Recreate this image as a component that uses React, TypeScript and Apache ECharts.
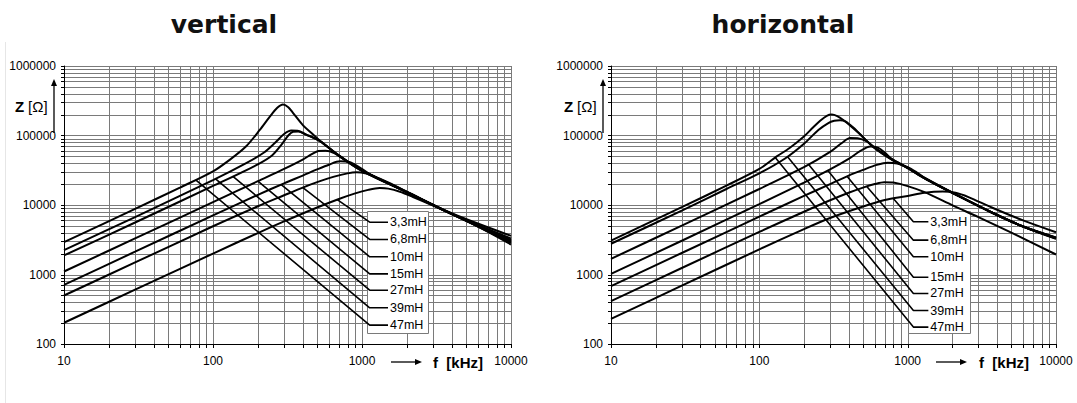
import React, { useEffect, useRef } from 'react';
import * as echarts from 'echarts';

// Axis ranges (kHz / Ohm)
const F_MIN = 10;
const F_MAX = 10000;
const Z_MIN = 100;
const Z_MAX = 1000000;

const INDUCTANCES = ['3,3mH', '6,8mH', '10mH', '15mH', '27mH', '39mH', '47mH'];

// ---- impedance curves, vertical mounting: [f (kHz), Z (Ohm)] ----
const V_3_3 = [[10, 202], [30, 605], [100, 2000], [200, 3950], [300, 5800], [500, 9200], [700, 12200], [900, 14700], [1100, 16500], [1315, 17500], [1500, 17200], [1800, 15500], [2200, 13000], [3000, 9800], [5000, 6000], [10000, 2700]];
const V_6_8 = [[10, 499], [30, 1490], [100, 4950], [200, 9600], [300, 13800], [400, 17800], [500, 21300], [650, 25600], [800, 28500], [920, 29500], [1050, 28700], [1200, 26000], [1400, 22500], [1700, 18500], [2000, 15400], [4000, 7500], [10000, 2850]];
const V_10 = [[10, 710], [30, 2130], [100, 7100], [200, 14000], [300, 20500], [400, 26500], [500, 32500], [600, 38000], [710, 42500], [820, 41500], [950, 35500], [1100, 28800], [1400, 22000], [2000, 15300], [4000, 7400], [10000, 2950]];
const V_15 = [[10, 1105], [30, 3300], [100, 11000], [200, 22000], [300, 33000], [400, 45000], [460, 54000], [510, 60000], [570, 60500], [650, 56000], [800, 42000], [1000, 31500], [2000, 15300], [4000, 7400], [10000, 3050]];
const V_27 = [[10, 1880], [30, 5600], [100, 18800], [200, 38500], [250, 52000], [290, 75000], [320, 100000], [345, 113000], [375, 114000], [420, 103000], [520, 83000], [700, 51500], [1000, 31000], [2000, 15200], [4000, 7400], [10000, 3150]];
const V_39 = [[10, 2240], [30, 6700], [100, 22800], [167, 40000], [220, 57000], [260, 78000], [300, 105000], [335, 118000], [370, 117000], [420, 104000], [520, 84000], [700, 51000], [1000, 31000], [2000, 15200], [4000, 7450], [10000, 3300]];
const V_47 = [[10, 2920], [30, 8800], [60, 17800], [100, 30500], [130, 45000], [167, 70000], [206, 120000], [240, 185000], [270, 250000], [295, 279000], [320, 255000], [344, 212000], [402, 140000], [460, 108000], [520, 85000], [700, 52000], [1000, 31500], [2000, 15500], [4000, 7600], [10000, 3600]];

// ---- impedance curves, horizontal mounting ----
const H_3_3 = [[10, 230], [30, 690], [100, 2300], [200, 4500], [300, 6500], [500, 9500], [700, 11800], [1000, 13500], [1300, 15000], [1725, 15600], [2100, 15000], [2570, 13000], [3690, 9200], [6000, 6000], [10000, 4050]];
const H_6_8 = [[10, 413], [30, 1240], [100, 4100], [200, 8000], [300, 11700], [400, 15000], [500, 17800], [600, 20000], [695, 21300], [800, 21000], [1000, 18700], [1300, 15300], [2023, 9800], [3000, 6700], [5000, 4000], [10000, 1940]];
const H_10 = [[10, 680], [30, 2040], [100, 6800], [200, 13500], [300, 20000], [400, 26500], [500, 32000], [620, 37800], [734, 40500], [850, 39500], [1000, 35000], [1150, 29500], [1309, 24500], [2198, 13600], [3690, 7800], [6000, 4900], [10000, 3250]];
const H_15 = [[10, 1020], [30, 3060], [100, 10300], [200, 21000], [300, 32500], [400, 46000], [480, 60000], [560, 69500], [630, 67000], [700, 57000], [781, 46000], [1000, 34500], [1309, 24200], [2198, 13500], [3690, 7800], [6000, 4900], [10000, 3300]];
const H_27 = [[10, 1680], [30, 5050], [100, 17000], [200, 35000], [300, 58000], [360, 78000], [410, 92000], [460, 91000], [530, 82000], [600, 67000], [700, 53500], [781, 45500], [1000, 34200], [1309, 24100], [2198, 13500], [3690, 7800], [6000, 4900], [10000, 3350]];
const H_39 = [[10, 2770], [30, 8300], [60, 17000], [100, 28500], [150, 47000], [200, 76000], [250, 120000], [290, 150000], [320, 163000], [350, 166000], [380, 160000], [430, 130000], [478, 104000], [588, 68500], [781, 45200], [1000, 34000], [1309, 24000], [2198, 13500], [3690, 7800], [6000, 4900], [10000, 3380]];
const H_47 = [[10, 3080], [30, 9300], [60, 19000], [100, 33000], [131, 50000], [160, 66000], [198, 95000], [230, 130000], [257, 163000], [285, 192000], [308, 200000], [335, 190000], [368, 167000], [420, 133000], [478, 104000], [588, 68000], [781, 45000], [1000, 34000], [1309, 24000], [2198, 13500], [3690, 7800], [6000, 4900], [10000, 3400]];

const VERTICAL_CURVES = [V_3_3, V_6_8, V_10, V_15, V_27, V_39, V_47];
const HORIZONTAL_CURVES = [H_3_3, H_6_8, H_10, H_15, H_27, H_39, H_47];

// Leader lines: frequency where each leader leaves its curve, and label level (Ohm)
const V_LEADER_FREQ = [682, 401, 287, 200, 136, 104, 76.5];
const V_LABEL_Z = [5660, 3190, 1800, 1020, 594, 332, 187];
const H_LEADER_FREQ = [800, 530, 390, 290, 215, 155, 128];
const H_LABEL_Z = [5730, 3120, 1800, 914, 533, 303, 175];

// Label block geometry in data space
const V_LABEL_BLOCK = { corner: 1126, end: 1495, box: [1081, 8150, 2773, 141.6] };
const H_LABEL_BLOCK = { corner: 1093, end: 1379, box: [1011, 8150, 2637, 141.6] };

const GRID_COLOR = '#7a7a7a';
const SANS = '"Liberation Sans", Arial, sans-serif';

function logGridValues(min: number, max: number): number[] {
  const out: number[] = [];
  for (let d = min; d < max; d *= 10) {
    for (let k = 1; k <= 9; k++) out.push(d * k);
  }
  out.push(max);
  return out;
}

// Z on a curve at frequency f (linear in log-log between read points)
function zOnCurve(curve: number[][], f: number): number {
  const lf = Math.log10(f);
  for (let i = 0; i < curve.length - 1; i++) {
    const [f0, z0] = curve[i];
    const [f1, z1] = curve[i + 1];
    if (f >= f0 && f <= f1) {
      const t = (lf - Math.log10(f0)) / (Math.log10(f1) - Math.log10(f0));
      return Math.pow(10, Math.log10(z0) + t * (Math.log10(z1) - Math.log10(z0)));
    }
  }
  return curve[curve.length - 1][1];
}

function gridLinesSeries(idx: number, dir: 'v' | 'h') {
  const values = dir === 'v' ? logGridValues(F_MIN, F_MAX) : logGridValues(Z_MIN, Z_MAX);
  return {
    type: 'custom',
    xAxisIndex: idx,
    yAxisIndex: idx,
    silent: true,
    z: 1,
    clip: false,
    data: values.map((v) => (dir === 'v' ? [v, Z_MIN] : [F_MIN, v])),
    renderItem: (params: any, api: any) => {
      const cs = params.coordSys;
      const p = api.coord([api.value(0), api.value(1)]);
      if (dir === 'v') {
        const x = Math.round(p[0]) + 0.5;
        const yb = cs.y + cs.height;
        return {
          type: 'group',
          children: [
            { type: 'line', shape: { x1: x, y1: cs.y, x2: x, y2: yb }, style: { stroke: GRID_COLOR, lineWidth: 1 } },
            { type: 'line', shape: { x1: x, y1: yb, x2: x, y2: yb + 4 }, style: { stroke: '#000', lineWidth: 1 } },
          ],
        };
      }
      const y = Math.round(p[1]) + 0.5;
      return {
        type: 'group',
        children: [
          { type: 'line', shape: { x1: cs.x, y1: y, x2: cs.x + cs.width, y2: y }, style: { stroke: GRID_COLOR, lineWidth: 1 } },
          { type: 'line', shape: { x1: cs.x - 3, y1: y, x2: cs.x, y2: y }, style: { stroke: '#000', lineWidth: 1 } },
        ],
      };
    },
  };
}

function labelBoxSeries(idx: number, box: number[]) {
  return {
    type: 'custom',
    xAxisIndex: idx,
    yAxisIndex: idx,
    silent: true,
    z: 3,
    encode: { x: [0, 2], y: [1, 3] },
    data: [box],
    renderItem: (params: any, api: any) => {
      const p1 = api.coord([api.value(0), api.value(1)]);
      const p2 = api.coord([api.value(2), api.value(3)]);
      const x = Math.round(p1[0]) + 0.5;
      const y = Math.round(p1[1]) + 0.5;
      return {
        type: 'rect',
        shape: { x, y, width: Math.round(p2[0] - p1[0]), height: Math.round(p2[1] - p1[1]) },
        style: { fill: '#fff', stroke: '#7a7a7a', lineWidth: 1 },
      };
    },
  };
}

function curveSeries(idx: number, curves: number[][][]) {
  return curves.map((c, i) => ({
    type: 'line',
    name: `${idx}-${INDUCTANCES[i]}`,
    xAxisIndex: idx,
    yAxisIndex: idx,
    data: c,
    smooth: 0.3,
    symbol: 'none',
    silent: true,
    z: 5,
    lineStyle: { color: '#000', width: 2 },
  }));
}

function leaderSeries(idx: number, curves: number[][][], freqs: number[], levels: number[], block: any) {
  return curves.map((c, i) => ({
    type: 'line',
    xAxisIndex: idx,
    yAxisIndex: idx,
    data: [
      [freqs[i], zOnCurve(c, freqs[i])],
      [block.corner, levels[i]],
      [block.end, levels[i]],
    ],
    symbol: 'none',
    silent: true,
    z: 6,
    lineStyle: { color: '#000', width: 1.6 },
    endLabel: {
      show: true,
      formatter: INDUCTANCES[i],
      color: '#000',
      fontSize: 12.5,
      fontFamily: SANS,
      distance: 2,
    },
  }));
}

function arrowGraphics(x1: number, y1: number, x2: number, y2: number) {
  const ang = Math.atan2(y2 - y1, x2 - x1);
  const len = 7;
  const w = 3;
  const bx = x2 - len * Math.cos(ang);
  const by = y2 - len * Math.sin(ang);
  const nx = -Math.sin(ang) * w;
  const ny = Math.cos(ang) * w;
  return [
    { type: 'line', shape: { x1, y1, x2: bx, y2: by }, style: { stroke: '#000', lineWidth: 1.3 } },
    { type: 'polygon', shape: { points: [[x2, y2], [bx + nx, by + ny], [bx - nx, by - ny]] }, style: { fill: '#000' } },
  ];
}

const App: React.FC = () => {
  const ref = useRef<HTMLDivElement>(null);

  useEffect(() => {
    if (!ref.current) return;
    const chart = echarts.init(ref.current, undefined, { renderer: 'svg' });

    const grids = [
      { left: 64, top: 66, width: 447, height: 278 },
      { left: 611, top: 66, width: 445, height: 278 },
    ];

    const labelFmt = (v: number) => String(Math.round(v));

    const xAxes = [0, 1].map((i) => ({
      type: 'log',
      logBase: 10,
      gridIndex: i,
      min: F_MIN,
      max: F_MAX,
      z: 4,
      axisLine: { show: true, onZero: false, lineStyle: { color: '#000', width: 1 } },
      axisTick: { show: false },
      splitLine: { show: false },
      axisLabel: { formatter: labelFmt, color: '#000', fontSize: 12, fontFamily: SANS, margin: 11 },
    }));
    const yAxes = [0, 1].map((i) => ({
      type: 'log',
      logBase: 10,
      gridIndex: i,
      min: Z_MIN,
      max: Z_MAX,
      z: 4,
      axisLine: { show: true, onZero: false, lineStyle: { color: '#000', width: 1 } },
      axisTick: { show: false },
      splitLine: { show: false },
      axisLabel: { formatter: labelFmt, color: '#000', fontSize: 12, fontFamily: SANS, margin: 8 },
    }));

    const series: any[] = [
      gridLinesSeries(0, 'v'),
      gridLinesSeries(0, 'h'),
      gridLinesSeries(1, 'v'),
      gridLinesSeries(1, 'h'),
      labelBoxSeries(0, V_LABEL_BLOCK.box),
      labelBoxSeries(1, H_LABEL_BLOCK.box),
      ...curveSeries(0, VERTICAL_CURVES),
      ...curveSeries(1, HORIZONTAL_CURVES),
      ...leaderSeries(0, VERTICAL_CURVES, V_LEADER_FREQ, V_LABEL_Z, V_LABEL_BLOCK),
      ...leaderSeries(1, HORIZONTAL_CURVES, H_LEADER_FREQ, H_LABEL_Z, H_LABEL_BLOCK),
    ];

    const titleStyle = { fontSize: 25, fontWeight: 'bold', fontFamily: '"DejaVu Sans", Verdana, sans-serif', fill: '#111' };
    const axisNameStyle = { fontSize: 15, fontWeight: 'bold', fontFamily: SANS, fill: '#000' };

    const zLabel = (x: number) => [
      { type: 'text', x, y: 106, style: { text: 'Z', ...axisNameStyle, verticalAlign: 'middle' } },
      { type: 'text', x: x + 13, y: 106, style: { text: '[Ω]', fontSize: 15, fontFamily: SANS, fill: '#000', verticalAlign: 'middle' } },
    ];
    const fLabel = (x: number) => [
      { type: 'text', x, y: 362, style: { text: 'f  [kHz]', ...axisNameStyle, verticalAlign: 'middle' } },
    ];

    const graphic: any[] = [
      { type: 'line', shape: { x1: 5.5, y1: 42, x2: 5.5, y2: 403 }, style: { stroke: '#e6e6e6', lineWidth: 1 } },
      { type: 'text', x: 224, y: 24, style: { text: 'vertical', ...titleStyle, align: 'center', verticalAlign: 'middle' } },
      { type: 'text', x: 783, y: 24, style: { text: 'horizontal', ...titleStyle, align: 'center', verticalAlign: 'middle' } },
      ...zLabel(15),
      ...zLabel(564),
      ...arrowGraphics(54, 133, 54, 79),
      ...arrowGraphics(603, 133, 603, 79),
      ...fLabel(433),
      ...fLabel(979),
      ...arrowGraphics(391, 362, 422, 362),
      ...arrowGraphics(936, 362, 967, 362),
    ];

    chart.setOption({
      animation: false,
      backgroundColor: '#fff',
      grid: grids,
      xAxis: xAxes,
      yAxis: yAxes,
      series,
      graphic,
    });

    return () => chart.dispose();
  }, []);

  return <div ref={ref} style={{ position: 'absolute', left: 0, top: 0, width: 1077, height: 403 }} />;
};

export default App;
